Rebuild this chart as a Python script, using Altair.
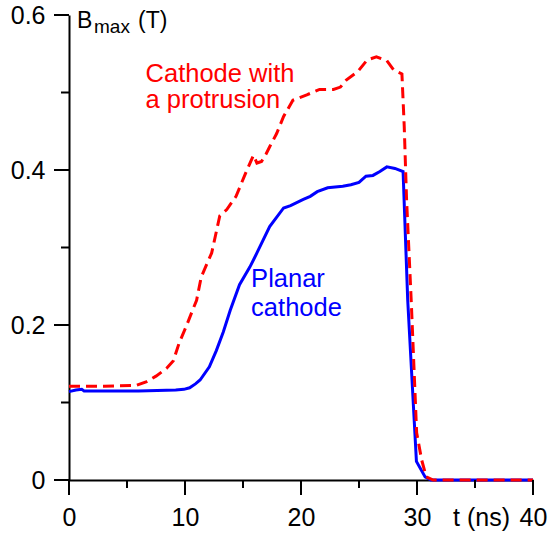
import altair as alt
import pandas as pd

# Planar cathode (blue, solid)
t_planar = [0, 0.6, 1.1, 1.3, 3, 6, 9.2, 9.9, 10.4, 10.9,
            11.3, 12.1, 12.7, 13.3, 13.9, 14.7, 15.6, 16.2, 17.3, 18.5,
            19.1, 20.2, 20.8, 21.4, 22.3, 23.6, 24.3, 25.0, 25.6, 26.2,
            26.8, 27.4, 28.1, 28.8, 29.2, 29.95, 30.7, 31.2, 40]
b_planar = [0.114, 0.116, 0.117, 0.115, 0.115, 0.115, 0.116, 0.117, 0.119, 0.124,
            0.129, 0.146, 0.167, 0.191, 0.219, 0.252, 0.275, 0.293, 0.327, 0.351,
            0.354, 0.362, 0.366, 0.372, 0.377, 0.379, 0.381, 0.384, 0.392, 0.393,
            0.398, 0.404, 0.402, 0.398, 0.232, 0.024, 0.004, 0.0, 0.0]

# Cathode with a protrusion (red, dashed)
t_protr = [0, 3, 5.8, 6.7, 7.5, 8.4, 9.0, 9.5, 10.1, 10.6,
           11.0, 11.4, 12.3, 13.0, 13.6, 14.4, 15.2, 15.9, 16.2, 16.6,
           17.0, 17.3, 17.9, 18.5, 19.3, 20.5, 21.6, 22.8, 23.4, 23.9,
           24.9, 25.7, 26.5, 27.4, 28.0, 28.7, 28.9, 29.1, 29.5, 29.97,
           30.4, 30.8, 31.4, 40]
b_protr = [0.121, 0.121, 0.122, 0.127, 0.134, 0.144, 0.154, 0.177, 0.198, 0.217,
           0.232, 0.262, 0.293, 0.341, 0.349, 0.366, 0.395, 0.419, 0.409, 0.411,
           0.421, 0.430, 0.447, 0.469, 0.490, 0.497, 0.504, 0.504, 0.507, 0.516,
           0.527, 0.542, 0.546, 0.541, 0.529, 0.524, 0.456, 0.362, 0.232, 0.061,
           0.026, 0.004, 0.0, 0.0]

x_major = [0, 10, 20, 30, 40]
x_minor = [5, 15, 25, 35]
y_major = [0, 0.2, 0.4, 0.6]
y_minor = [0.1, 0.3, 0.5]
x_label_values = [0, 10, 20, 30, 35, 40]

FONT = "Liberation Sans"

planar = pd.DataFrame({"t": t_planar, "B": b_planar})
protr = pd.DataFrame({"t": t_protr, "B": b_protr})

xs = alt.Scale(domain=[0, 40], nice=False, zero=False)
ys = alt.Scale(domain=[0, 0.6], nice=False)

common = dict(grid=False, title=None, ticks=False, tickSize=0,
              domain=True, domainColor="black", domainWidth=2,
              labelColor="black", labelFont=FONT, labelFontSize=25,
              labelFlush=False, labelOverlap=False)

x_axis = alt.Axis(
    values=x_label_values, orient="bottom", labelPadding=25,
    labelOffset={"condition": {"test": "datum.value === 35", "value": 6}, "value": 0},
    labelExpr="datum.value === 35 ? 't (ns)' : format(datum.value, 'd')",
    **common,
)
y_axis = alt.Axis(
    values=y_major, orient="left", labelPadding=24,
    labelExpr="format(datum.value, '~g')",
    **common,
)

blue = alt.Chart(planar).mark_line(color="#0000FF", strokeWidth=3).encode(
    x=alt.X("t:Q", scale=xs, axis=x_axis),
    y=alt.Y("B:Q", scale=ys, axis=y_axis),
)

red = alt.Chart(protr).mark_line(color="#FF0000", strokeWidth=3, strokeDash=[11, 6]).encode(
    x=alt.X("t:Q", scale=xs),
    y=alt.Y("B:Q", scale=ys),
)


def xticks(vals, length):
    return alt.Chart(pd.DataFrame({"v": vals})).mark_rule(
        color="black", strokeWidth=2, y2Offset=length
    ).encode(x=alt.X("v:Q", scale=xs), y=alt.datum(0), y2=alt.datum(0))


def yticks(vals, length):
    return alt.Chart(pd.DataFrame({"v": vals})).mark_rule(
        color="black", strokeWidth=2, x2Offset=-length
    ).encode(y=alt.Y("v:Q", scale=ys), x=alt.datum(0), x2=alt.datum(0))


red_lab = pd.DataFrame({"t": [6.6], "B": [0.514], "txt": ["Cathode with\na protrusion"]})
blue_lab = pd.DataFrame({"t": [15.7], "B": [0.249], "txt": ["Planar\ncathode"]})

red_text = alt.Chart(red_lab).mark_text(
    align="left", baseline="alphabetic", lineBreak="\n", lineHeight=26.6,
    font=FONT, fontSize=25.5, color="#FF0000"
).encode(x=alt.X("t:Q", scale=xs), y=alt.Y("B:Q", scale=ys), text="txt:N")

blue_text = alt.Chart(blue_lab).mark_text(
    align="left", baseline="alphabetic", lineBreak="\n", lineHeight=28.5,
    font=FONT, fontSize=25.5, color="#0000FF"
).encode(x=alt.X("t:Q", scale=xs), y=alt.Y("B:Q", scale=ys), text="txt:N")

title_df = pd.DataFrame({"t": [0], "B": [0.6]})


def title_part(txt, dx, dy, size):
    return alt.Chart(title_df).mark_text(
        align="left", baseline="alphabetic", dx=dx, dy=dy,
        font=FONT, fontSize=size, color="black", text=txt
    ).encode(x=alt.X("t:Q", scale=xs), y=alt.Y("B:Q", scale=ys))


t_B = title_part("B", 8, 13, 23)
t_max = title_part("max", 25, 18, 19)
t_T = title_part("(T)", 69, 13, 23)

chart = alt.layer(
    blue, red,
    xticks(x_major, 15), xticks(x_minor, 8), yticks(y_major, 15), yticks(y_minor, 8),
    red_text, blue_text, t_B, t_max, t_T
).properties(
    width=464, height=465,
    padding={"left": 69, "top": 15, "right": 15, "bottom": 53},
    autosize=alt.AutoSizeParams(type="none"),
    background="white",
).configure_view(stroke=None)

chart.save("out.html", embed_options={"renderer": "svg", "actions": False})
